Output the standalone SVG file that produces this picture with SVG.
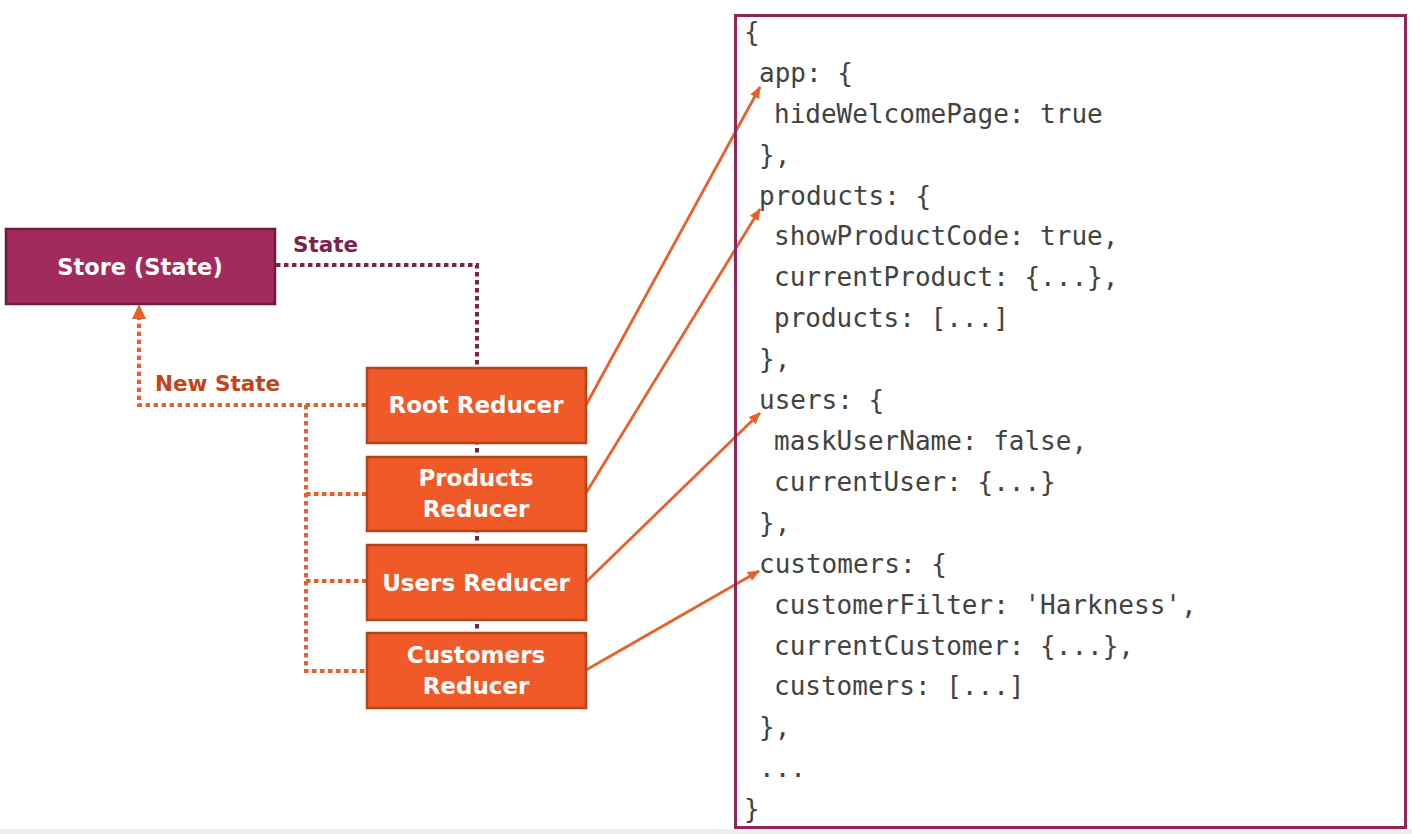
<svg xmlns="http://www.w3.org/2000/svg" width="1412" height="834" viewBox="0 0 1412 834">
<defs>
<marker id="arr" viewBox="0 0 12 10" refX="11" refY="5" markerWidth="13" markerHeight="10" markerUnits="userSpaceOnUse" orient="auto">
<path d="M0,0 L12,5 L0,10 z" fill="#e8602c"/>
</marker>
<style>
.lbl{font-family:"DejaVu Sans","Liberation Sans",sans-serif;font-weight:bold;fill:#fff;text-anchor:middle}
.store{fill:#a02b5c;stroke:#6e1b40;stroke-width:2.5}
.red{fill:#f05a28;stroke:#b8431b;stroke-width:2.5}
.dotP{fill:none;stroke:#7b2251;stroke-width:4;stroke-dasharray:4.5 3.5}
.dotO{fill:none;stroke:#e4602c;stroke-width:4;stroke-dasharray:4.5 3.5}
.sol{fill:none;stroke:#e8602c;stroke-width:2.8}
.code{font-family:"DejaVu Sans Mono","Liberation Mono",monospace;font-size:26px;fill:#424242}
.edge{font-family:"DejaVu Sans","Liberation Sans",sans-serif;font-weight:bold;font-size:21.5px}
</style>
</defs>
<rect x="0" y="0" width="1412" height="834" fill="#ffffff"/>
<rect x="0" y="829" width="1412" height="5" fill="#eeeeee"/>

<g id="connectors">
<path class="dotP" d="M276,265 H477 V633"/>
<path class="dotO" d="M366,405 H139 V318"/>
<polygon points="139,304 132,319 146,319" fill="#e4602c"/>
<path class="dotO" d="M306,405 V671 H366"/>
<path class="dotO" d="M306,494 H366"/>
<path class="dotO" d="M306,581 H366"/>
<text class="edge" x="293" y="252" fill="#7b2251">State</text>
<text class="edge" x="155" y="391" fill="#c2441a">New State</text>
<line class="sol" x1="586" y1="405" x2="760" y2="87" marker-end="url(#arr)"/>
<line class="sol" x1="586" y1="493" x2="760" y2="209" marker-end="url(#arr)"/>
<line class="sol" x1="586" y1="582" x2="760" y2="413" marker-end="url(#arr)"/>
<line class="sol" x1="586" y1="670" x2="759" y2="571" marker-end="url(#arr)"/>
</g>

<g id="store">
<rect class="store" x="6" y="229" width="269" height="75"/>
<text class="lbl" x="140" y="275" font-size="22.5">Store (State)</text>
</g>

<g id="root-reducer">
<rect class="red" x="367" y="368" width="219" height="75"/>
<text class="lbl" x="476" y="413" font-size="23">Root Reducer</text>
</g>

<g id="products-reducer">
<rect class="red" x="367" y="457" width="219" height="74"/>
<text class="lbl" x="476" y="486" font-size="23">Products</text>
<text class="lbl" x="476" y="517" font-size="23">Reducer</text>
</g>

<g id="users-reducer">
<rect class="red" x="367" y="545" width="219" height="75"/>
<text class="lbl" x="476" y="591" font-size="23">Users Reducer</text>
</g>

<g id="customers-reducer">
<rect class="red" x="367" y="633" width="219" height="75"/>
<text class="lbl" x="476" y="663" font-size="23">Customers</text>
<text class="lbl" x="476" y="694" font-size="23">Reducer</text>
</g>

<g id="state-code">
<rect x="735.5" y="15.5" width="670" height="812" fill="none" stroke="#8e2659" stroke-width="3"/>
<text class="code" x="744" y="41">{</text>
<text class="code" x="759" y="82">app: {</text>
<text class="code" x="774" y="123">hideWelcomePage: true</text>
<text class="code" x="759" y="164">},</text>
<text class="code" x="759" y="205">products: {</text>
<text class="code" x="774" y="245">showProductCode: true,</text>
<text class="code" x="774" y="286">currentProduct: {...},</text>
<text class="code" x="774" y="327">products: [...]</text>
<text class="code" x="759" y="368">},</text>
<text class="code" x="759" y="409">users: {</text>
<text class="code" x="774" y="450">maskUserName: false,</text>
<text class="code" x="774" y="491">currentUser: {...}</text>
<text class="code" x="759" y="532">},</text>
<text class="code" x="759" y="573">customers: {</text>
<text class="code" x="774" y="614">customerFilter: 'Harkness',</text>
<text class="code" x="774" y="655">currentCustomer: {...},</text>
<text class="code" x="774" y="695">customers: [...]</text>
<text class="code" x="759" y="736">},</text>
<text class="code" x="759" y="777">...</text>
<text class="code" x="744" y="818">}</text>
</g>
</svg>
